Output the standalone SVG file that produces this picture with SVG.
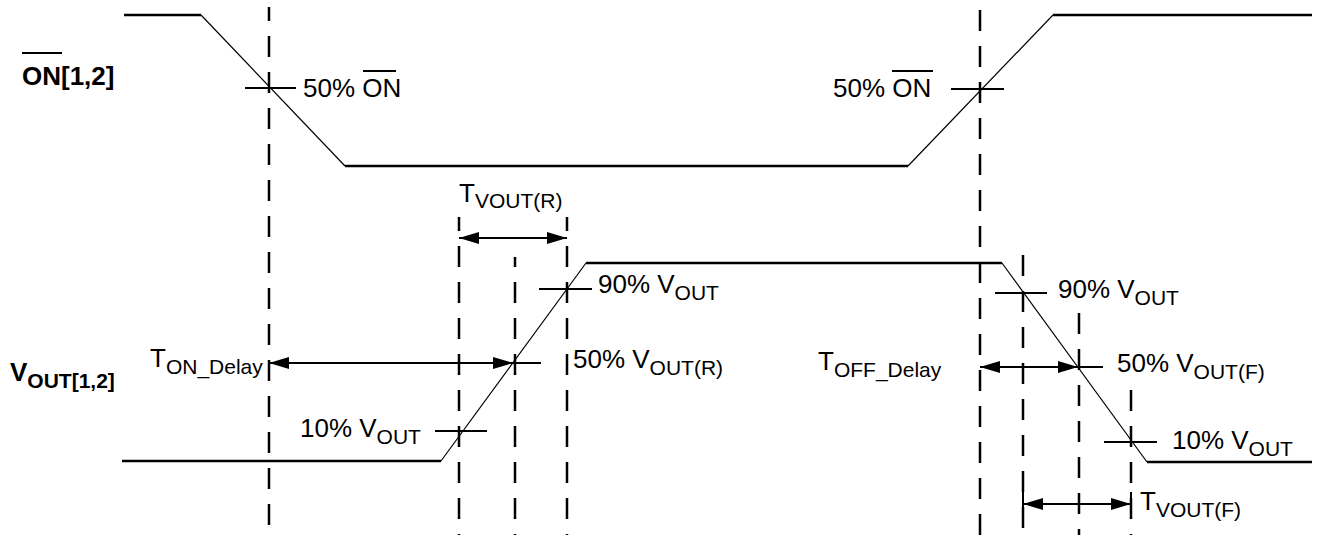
<svg xmlns="http://www.w3.org/2000/svg" width="1318" height="535" viewBox="0 0 1318 535">
<defs>
<style>
.w{stroke:#000;stroke-width:2.5;fill:none;stroke-linejoin:miter}
.s{stroke:#000;stroke-width:1.2;fill:none}
.d{stroke:#000;stroke-width:2.5;stroke-dasharray:21 15;fill:none}
.k{stroke:#000;stroke-width:2;fill:none}
.a{stroke:#000;stroke-width:2;fill:none;marker-start:url(#ah);marker-end:url(#ah)}
text{font-family:"Liberation Sans",Arial,Helvetica,sans-serif;font-size:26px;fill:#000}
.sub{font-size:21px}
.b{font-weight:bold}
.ov{stroke:#000;stroke-width:2;fill:none}
</style>
<marker id="ah" markerUnits="userSpaceOnUse" markerWidth="20" markerHeight="12" refX="20" refY="6" orient="auto-start-reverse" viewBox="0 0 20 12">
<path d="M0,0 L20,6 L0,12 z" fill="#000"/>
</marker>
</defs>
<rect width="1318" height="535" fill="#fff"/>

<g id="on-waveform">
<line class="w" x1="124" y1="15" x2="201" y2="15"/>
<line class="s" x1="201" y1="15" x2="345" y2="166"/>
<line class="w" x1="345" y1="166" x2="908" y2="166"/>
<line class="s" x1="908" y1="166" x2="1053" y2="15"/>
<line class="w" x1="1053" y1="15" x2="1312" y2="15"/>
</g>

<g id="vout-waveform">
<line class="w" x1="122" y1="461" x2="441" y2="461"/>
<line class="s" x1="441" y1="461" x2="586" y2="263"/>
<line class="w" x1="586" y1="263" x2="1002" y2="263"/>
<line class="s" x1="1002" y1="263" x2="1147" y2="462"/>
<line class="w" x1="1147" y1="462" x2="1312" y2="462"/>
</g>

<g id="dashed-guides">
<line class="d" x1="269" y1="7" x2="269" y2="535" stroke-dashoffset="7"/>
<line class="d" x1="459" y1="217" x2="459" y2="535" stroke-dashoffset="7"/>
<line class="d" x1="515" y1="257" x2="515" y2="535" stroke-dashoffset="11"/>
<line class="d" x1="567" y1="217" x2="567" y2="535" stroke-dashoffset="7"/>
<line class="d" x1="980" y1="7" x2="980" y2="535" stroke-dashoffset="33"/>
<line class="d" x1="1023" y1="255" x2="1023" y2="535"/>
<line class="d" x1="1079" y1="313" x2="1079" y2="535"/>
<line class="d" x1="1131" y1="390" x2="1131" y2="535"/>
</g>

<g id="ticks">
<line class="k" x1="245" y1="88" x2="296" y2="88"/>
<line class="k" x1="951" y1="89" x2="1004" y2="89"/>
<line class="k" x1="539" y1="289" x2="592" y2="289"/>
<line class="k" x1="488" y1="363" x2="541" y2="363"/>
<line class="k" x1="435" y1="431" x2="487" y2="431"/>
<line class="k" x1="995" y1="293" x2="1047" y2="293"/>
<line class="k" x1="1053" y1="367" x2="1103" y2="367"/>
<line class="k" x1="1104" y1="442" x2="1157" y2="442"/>
<line class="k" x1="1023" y1="492" x2="1023" y2="508"/>
<line class="k" x1="1131" y1="492" x2="1131" y2="508"/>
</g>

<g id="connectors">
<line class="a" x1="269" y1="363" x2="513" y2="363"/>
<line class="a" x1="459" y1="238" x2="567" y2="238"/>
<line class="a" x1="980" y1="367" x2="1078" y2="367"/>
<line class="a" x1="1023" y1="504" x2="1131" y2="504"/>
</g>

<g id="label-on">
<text class="b" x="22" y="85">ON[1,2]</text>
<line class="ov" x1="22" y1="53" x2="62" y2="53" stroke-width="2.5"/>
</g>

<g id="label-vout">
<text class="b" x="10" y="381">V<tspan class="sub" dy="7">OUT[1,2]</tspan></text>
</g>

<g id="label-50on-left">
<text x="303" y="97">50% ON</text>
<line class="ov" x1="363" y1="71" x2="396" y2="71"/>
</g>

<g id="label-50on-right">
<text x="833" y="97">50% ON</text>
<line class="ov" x1="892" y1="71" x2="933" y2="71"/>
</g>

<g id="label-tvout-r">
<text x="459" y="202">T<tspan class="sub" dy="6">VOUT(R)</tspan></text>
</g>

<g id="label-90-left">
<text x="598" y="293">90% V<tspan class="sub" dy="7">OUT</tspan></text>
</g>

<g id="label-50-left">
<text x="573" y="368">50% V<tspan class="sub" dy="7">OUT(R)</tspan></text>
</g>

<g id="label-10-left">
<text x="300" y="437">10% V<tspan class="sub" dy="7">OUT</tspan></text>
</g>

<g id="label-ton">
<text x="150" y="367">T<tspan class="sub" dy="7">ON_Delay</tspan></text>
</g>

<g id="label-toff">
<text x="818" y="370">T<tspan class="sub" dy="7">OFF_Delay</tspan></text>
</g>

<g id="label-90-right">
<text x="1058" y="298">90% V<tspan class="sub" dy="7">OUT</tspan></text>
</g>

<g id="label-50-right">
<text x="1117" y="372">50% V<tspan class="sub" dy="7">OUT(F)</tspan></text>
</g>

<g id="label-10-right">
<text x="1172" y="449">10% V<tspan class="sub" dy="7">OUT</tspan></text>
</g>

<g id="label-tvout-f">
<text x="1140" y="510">T<tspan class="sub" dy="7">VOUT(F)</tspan></text>
</g>
</svg>
